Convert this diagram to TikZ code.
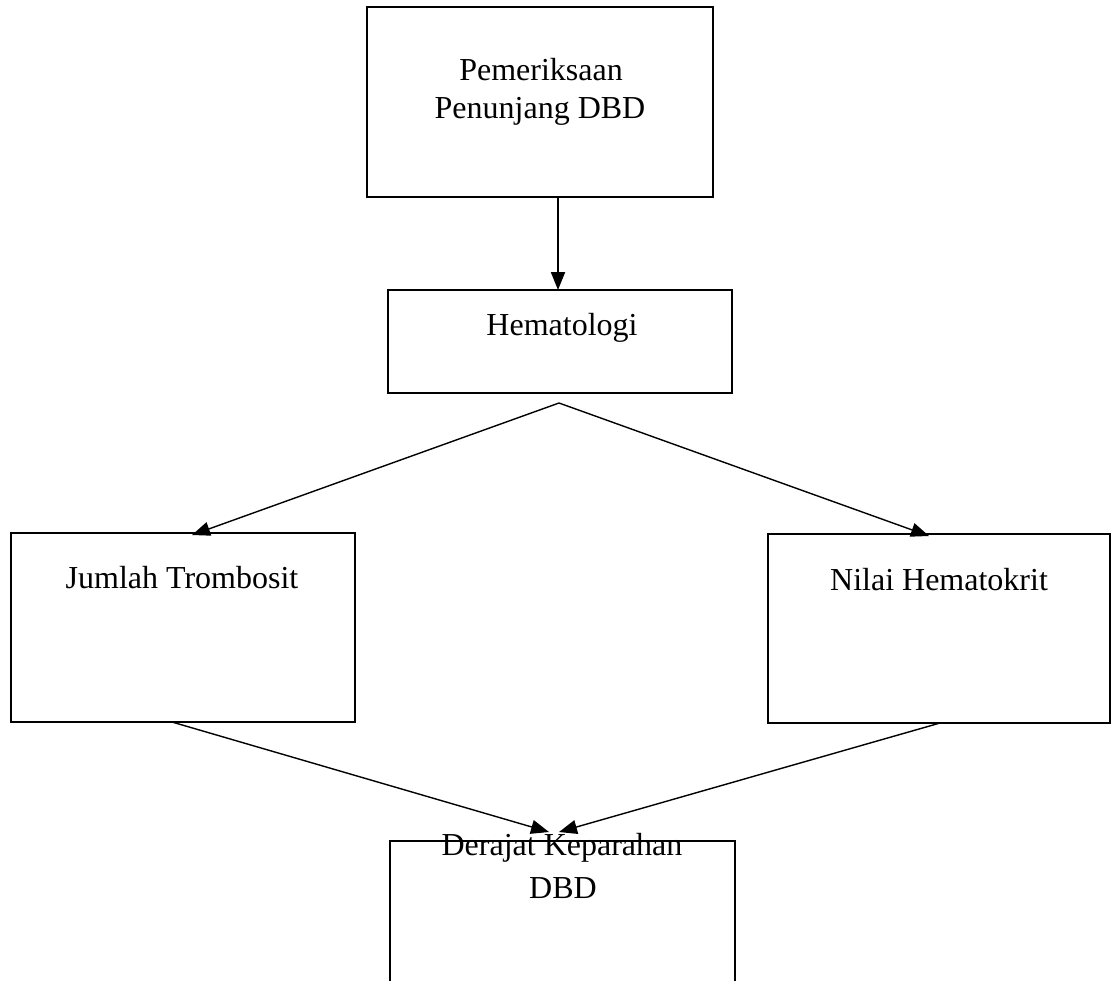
\documentclass[tikz,border=0pt]{standalone}
\usepackage{fontspec}
\setmainfont{Liberation Serif}
\usetikzlibrary{arrows.meta}
\begin{document}
\begin{tikzpicture}[x=0.5pt,y=-0.5pt,
  box/.style={draw=black,line width=1.4pt,minimum width=#1,inner sep=0pt},
  lbl/.style={anchor=base,inner sep=0pt,font=\fontsize{16}{19}\selectfont},
  conn/.style={draw=black,line width=0.7pt,-{Triangle[length=9pt,width=7pt]}},
  plain/.style={draw=black,line width=0.7pt}]
\useasboundingbox (0,0) rectangle (1112,980);
\clip (0,0) rectangle (1112,980);
\fill[white] (0,0) rectangle (1112,980);
% boxes
\node[box=173pt,minimum height=95pt] (b1) at (540,102) {};
\node[box=172pt,minimum height=51.5pt] (b2) at (560,341.5) {};
\node[box=172pt,minimum height=94.5pt] (b3) at (183,627.5) {};
\node[box=171pt,minimum height=94.5pt] (b4) at (939,628.5) {};
\node[box=172.5pt,minimum height=95pt] (b5) at (562.5,936) {};
% texts
\node[lbl] (t1a) at (541,80) {Pemeriksaan};
\node[lbl] (t1b) at (540,118) {Penunjang DBD};
\node[lbl] (t2) at (562,335) {Hematologi};
\node[lbl] (t3) at (182,588) {Jumlah Trombosit};
\node[lbl] (t4) at (939,590) {Nilai Hematokrit};
\node[lbl] (t5a) at (562,855) {Derajat Keparahan};
\node[lbl] (t5b) at (563,898) {DBD};
% connector points
\coordinate (s1) at (558,197);
\coordinate (e1) at (558,290);
\coordinate (apex) at (559,403);
\coordinate (e3) at (192,535);
\coordinate (e4) at (929,536);
\coordinate (s3) at (172,722);
\coordinate (s4) at (940,723);
\coordinate (e5l) at (549,832);
\coordinate (e5r) at (559,832);
% connectors
\draw[conn,line width=1pt] (s1) -- (e1);
\draw[conn] (apex) -- (e3);
\draw[conn] (apex) -- (e4);
\draw[conn] (s3) -- (e5l);
\draw[conn] (s4) -- (e5r);
\end{tikzpicture}
\end{document}
